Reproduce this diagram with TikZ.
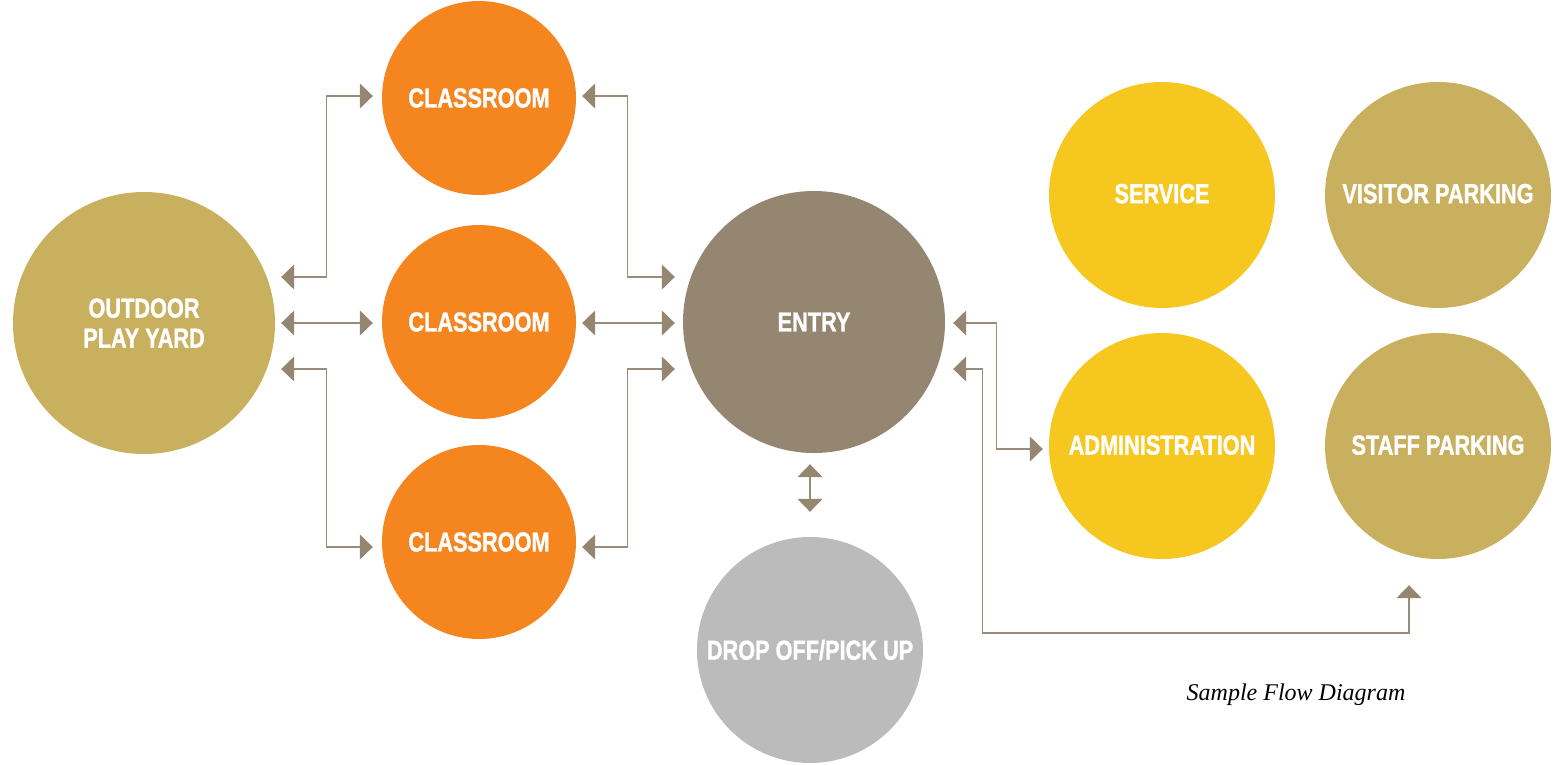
\documentclass[tikz,border=0pt]{standalone}
\usepackage{fontspec}
\usetikzlibrary{arrows.meta}
\newfontfamily\labfont[FakeStretch=0.79,FakeBold=1.2]{Liberation Sans}
\newfontfamily\capfont{Liberation Serif}
\definecolor{corange}{HTML}{F5851F}
\definecolor{cgold}{HTML}{C8B05E}
\definecolor{ctaupe}{HTML}{958672}
\definecolor{cgrey}{HTML}{BBBBBB}
\definecolor{cyellow}{HTML}{F6C71E}
\definecolor{cline}{HTML}{9A8C78}
\tikzset{
  bubble/.style={circle,inner sep=0pt,text=white,align=center,
    font=\labfont\bfseries\fontsize{27.5}{30}\selectfont},
  big/.style={bubble,minimum size=262pt},
  mid/.style={bubble,minimum size=226pt},
  small/.style={bubble,minimum size=194pt},
  flow/.style={draw=cline,line width=1.3pt,
    {Triangle[length=13pt,width=25pt,color=ctaupe]}-{Triangle[length=13pt,width=25pt,color=ctaupe]}}
}
\begin{document}
\begin{tikzpicture}[x=1pt,y=-1pt]
\useasboundingbox (0,0) rectangle (1561,764);
\node[big,fill=cgold] (yard) at (144,323) {OUTDOOR\\PLAY YARD};
\node[small,fill=corange] (c1) at (479,98) {CLASSROOM};
\node[small,fill=corange] (c2) at (479,322) {CLASSROOM};
\node[small,fill=corange] (c3) at (479,542) {CLASSROOM};
\node[big,fill=ctaupe] (entry) at (814,322) {ENTRY};
\node[mid,fill=cgrey] (drop) at (810,650) {DROP OFF/PICK UP};
\node[mid,fill=cyellow] (serv) at (1162,195) {\raisebox{3pt}{SERVICE}};
\node[mid,fill=cyellow] (admin) at (1162,446) {\raisebox{2pt}{ADMINISTRATION}};
\node[mid,fill=cgold] (visit) at (1438,195) {\raisebox{3pt}{VISITOR PARKING}};
\node[mid,fill=cgold] (staff) at (1438,446) {\raisebox{2pt}{STAFF PARKING}};
\node[font=\capfont\itshape\fontsize{24}{28}\selectfont,anchor=base] (cap) at (1296,700) {Sample Flow Diagram};
% left side
\draw[flow] ([shift={(6,-46)}]yard.east) -| ([shift={(-55,-2)}]c1.west) -- ([shift={(-9,-2)}]c1.west);
\draw[flow] ([shift={(6,0)}]yard.east) -- ([shift={(-9,1)}]c2.west);
\draw[flow] ([shift={(6,46)}]yard.east) -| ([shift={(-55,5)}]c3.west) -- ([shift={(-9,5)}]c3.west);
% right of classrooms
\draw[flow] ([shift={(6,-2)}]c1.east) -| ([shift={(-55,-45)}]entry.west) -- ([shift={(-8,-45)}]entry.west);
\draw[flow] ([shift={(6,1)}]c2.east) -- ([shift={(-8,1)}]entry.west);
\draw[flow] ([shift={(6,5)}]c3.east) -| ([shift={(-55,47)}]entry.west) -- ([shift={(-8,47)}]entry.west);
% entry to drop off
\draw[flow] ([shift={(-4,11)}]entry.south) -- ([shift={(0,-25)}]drop.north);
% entry right side
\draw[flow] ([shift={(8,1)}]entry.east) -| ([shift={(-52,3)}]admin.west) -- ([shift={(-6,3)}]admin.west);
\coordinate (lowturn) at ([shift={(37,311)}]entry.east);
\draw[flow] ([shift={(8,47)}]entry.east) -| (lowturn) -| ([shift={(-29,26)}]staff.south);
\end{tikzpicture}
\end{document}
